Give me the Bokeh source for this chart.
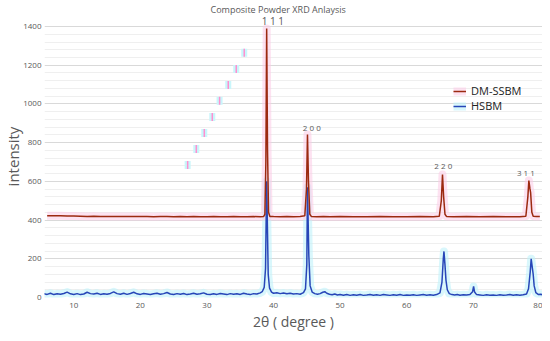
from bokeh.plotting import figure
from bokeh.models import Range1d, FixedTicker, Legend, LegendItem, ColumnDataSource
from bokeh.core.properties import value
from bokeh.embed import file_html
from bokeh.resources import INLINE

# ---------------- data ----------------
dm_2theta = [6.0, 7, 8, 9, 10, 11, 12, 13, 14, 15, 16, 17, 18, 19, 20, 21, 22, 23, 24, 25,
             26, 27, 28, 29, 30, 31, 32, 33, 34, 35, 36, 37, 38, 38.5, 38.7, 38.85, 38.97,
             39.1, 39.25, 39.45, 40, 41, 42, 43, 44, 44.7, 44.95, 45.1, 45.25, 45.45, 45.7,
             46.5, 47.5, 48.5, 50, 52, 54, 56, 58, 60, 62, 64, 64.9, 65.2, 65.38, 65.55,
             65.75, 66, 67, 69, 71, 73, 75, 77, 77.9, 78.2, 78.35, 78.5, 78.62, 78.8, 79.0,
             79.5, 80.0]
dm_intensity = [423, 422, 422, 421, 421, 420, 419, 420, 419, 418, 419, 418, 418, 419, 418,
                418, 417, 418, 418, 417, 418, 417, 418, 417, 417, 418, 417, 417, 418, 417,
                417, 418, 417, 418, 430, 700, 1390, 760, 440, 419, 418, 417, 418, 417, 418,
                422, 560, 842, 600, 430, 418, 417, 418, 417, 418, 417, 417, 418, 417, 417,
                418, 417, 420, 500, 635, 520, 430, 418, 417, 418, 417, 418, 417, 417, 420,
                520, 604, 565, 540, 440, 420, 418, 418]

hs_2theta = [5.5, 6.0, 6.5, 7.0, 7.5, 8.0, 8.5, 9.0, 9.5, 10.0, 10.5, 11.0, 11.5, 12.0, 12.5,
             13.0, 13.5, 14.0, 14.5, 15.0, 15.5, 16.0, 16.5, 17.0, 17.5, 18.0, 18.5, 19.0,
             19.5, 20.0, 20.5, 21.0, 21.5, 22.0, 22.5, 23.0, 23.5, 24.0, 24.5, 25.0, 25.5,
             26.0, 26.5, 27.0, 27.5, 28.0, 28.5, 29.0, 29.5, 30.0, 30.5, 31.0, 31.5, 32.0,
             32.5, 33.0, 33.5, 34.0, 34.5, 35.0, 35.5, 36.0, 36.5, 37.0, 37.5, 38.0, 38.3,
             38.6, 38.8, 38.9, 38.97, 39.1, 39.2, 39.4, 39.7, 40.0, 40.5, 41.0, 41.5, 42.0,
             42.5, 43.0, 43.5, 44.0, 44.5, 44.8, 45.0, 45.1, 45.3, 45.5, 45.8, 46.2, 46.6,
             47.0, 47.4, 47.7, 48.0, 48.4, 48.8, 49.2, 49.6, 50.0, 50.5, 51.0, 51.5, 52.0,
             52.5, 53.0, 53.5, 54.0, 54.5, 55.0, 55.5, 56.0, 56.5, 57.0, 57.5, 58.0, 58.5,
             59.0, 59.5, 60.0, 60.5, 61.0, 61.5, 62.0, 62.5, 63.0, 63.5, 64.0, 64.5, 65.0,
             65.3, 65.5, 65.6, 65.75, 65.9, 66.1, 66.4, 66.8, 67.2, 67.6, 68.0, 68.5, 69.0,
             69.5, 69.9, 70.05, 70.2, 70.5, 71.0, 71.5, 72.0, 72.5, 73.0, 73.5, 74.0, 74.5,
             75.0, 75.5, 76.0, 76.5, 77.0, 77.5, 78.0, 78.3, 78.55, 78.7, 78.85, 79.0, 79.15,
             79.4, 79.8, 80.1, 80.4]
hs_intensity = [20, 16, 22, 15, 19, 17, 21, 28, 19, 16, 20, 15, 18, 27, 20,
                18, 22, 16, 19, 17, 21, 29, 20, 17, 22, 16, 21, 27,
                19, 16, 21, 18, 15, 19, 22, 17, 20, 26, 18, 16, 20,
                17, 21, 15, 18, 22, 17, 19, 24, 17, 15, 19, 16, 21,
                18, 15, 20, 17, 19, 16, 22, 18, 15, 20, 18, 24, 30,
                52, 150, 420, 600, 330, 120, 48, 28, 22, 24, 20, 23, 19,
                22, 18, 20, 17, 25, 45, 170, 570, 220, 60, 28, 20, 17,
                20, 27, 30, 22, 17, 14, 18, 13, 16, 12, 15, 11, 14,
                12, 15, 11, 13, 16, 12, 14, 11, 15, 13, 11, 14, 12,
                15, 11, 13, 12, 14, 11, 13, 15, 12, 14, 12, 15, 24,
                80, 200, 238, 170, 90, 40, 20, 15, 13, 15, 12, 14, 13,
                15, 30, 57, 28, 15, 13, 11, 14, 12, 13, 11, 14, 12,
                13, 15, 12, 14, 12, 14, 18, 45, 130, 200, 160, 120, 60,
                25, 15, 17, 14]

peak_labels = ["1 1 1", "2 0 0", "2 2 0", "3 1 1"]
peak_label_x = [39.9, 45.75, 65.5, 77.9]
peak_label_y = [1392, 852, 656, 620]
peak_label_size = ["10px", "8px", "8px", "8px"]

marker_x = [27.1, 28.4, 29.6, 30.8, 31.9, 33.2, 34.4, 35.6]
marker_y = [684, 767, 850, 933, 1016, 1098, 1181, 1264]

x_ticks = [10, 20, 30, 40, 50, 60, 70, 80]
y_ticks = [0, 200, 400, 600, 800, 1000, 1200, 1400]
y_minor = [v for v in range(40, 1400, 40) if v % 200 != 0]

FONT = "Open Sans"
GRAY = "#595959"
RED = "#9c2a10"
BLUE = "#2746b8"

p = figure(width=542, height=333, output_backend="svg", toolbar_location=None,
           x_range=Range1d(5.6, 80.4), y_range=Range1d(0, 1457),
           min_border_left=0, min_border_right=0, min_border_top=0, min_border_bottom=0)

p.title.text = "Composite Powder XRD Anlaysis"
p.title.align = "left"
p.title.offset = 166
p.title.standoff = 0
p.title.text_font = FONT
p.title.text_font_size = "9px"
p.title.text_font_style = "normal"
p.title.text_color = GRAY

p.outline_line_color = None
p.background_fill_color = "white"

p.xgrid.grid_line_color = None
p.ygrid.ticker = FixedTicker(ticks=y_ticks, minor_ticks=y_minor)
p.ygrid.grid_line_color = "#d9d9d9"
p.ygrid.minor_grid_line_color = "#efefef"

p.xaxis.ticker = FixedTicker(ticks=x_ticks)
p.yaxis.ticker = FixedTicker(ticks=y_ticks)
for ax in (p.xaxis, p.yaxis):
    ax.axis_line_color = None
    ax.major_tick_line_color = None
    ax.minor_tick_line_color = None
    ax.major_tick_out = 0
    ax.minor_tick_out = 0
    ax.major_label_text_font = FONT
    ax.major_label_text_font_size = "8px"
    ax.major_label_text_color = GRAY
    ax.axis_label_text_font = FONT
    ax.axis_label_text_font_style = "normal"
    ax.axis_label_text_color = GRAY

p.xaxis.axis_label = "2θ ( degree )"
p.xaxis.axis_label_text_font_size = "14px"
p.xaxis.major_label_standoff = 5
p.xaxis.axis_label_standoff = 1
p.yaxis.axis_label = "intensity"
p.yaxis.axis_label_text_font_size = "15px"
p.yaxis.major_label_standoff = 3
p.yaxis.axis_label_standoff = -3

# decorative marks
p.rect(marker_x, marker_y, width=6, height=8, width_units="screen", height_units="screen",
       fill_color="#c9f6fb", line_color=None)
p.rect(marker_x, marker_y, width=1.5, height=8, width_units="screen", height_units="screen",
       fill_color="#ff8fcf", line_color=None)

# glows
hs_src = ColumnDataSource(dict(x=hs_2theta, y=hs_intensity))
dm_src = ColumnDataSource(dict(x=dm_2theta, y=dm_intensity))
hs_glow = p.line("x", "y", source=hs_src, line_width=8, line_color="#bff2fa", line_alpha=0.6,
                 line_join="round")
dm_glow = p.line("x", "y", source=dm_src, line_width=8, line_color="#fccbe6", line_alpha=0.55,
                 line_join="round")
hs_line = p.line("x", "y", source=hs_src, line_width=1.5, line_color=BLUE)
dm_line = p.line("x", "y", source=dm_src, line_width=1.5, line_color=RED)

lab_src = ColumnDataSource(dict(x=peak_label_x, y=peak_label_y, t=peak_labels,
                                s=peak_label_size))
p.text("x", "y", text="t", source=lab_src, text_font=value(FONT), text_font_size="s",
       text_color=GRAY, text_align="center", text_baseline="bottom")

legend = Legend(items=[LegendItem(label="DM-SSBM", renderers=[dm_glow, dm_line]),
                       LegendItem(label="HSBM", renderers=[hs_glow, hs_line])],
                location=(409, 184), orientation="vertical")
legend.background_fill_alpha = 0
legend.border_line_color = None
legend.padding = 0
legend.margin = 0
legend.spacing = -6
legend.glyph_width = 13
legend.glyph_height = 10
legend.label_height = 10
legend.label_standoff = 5
legend.label_text_font = FONT
legend.label_text_font_size = "11px"
legend.label_text_line_height = 0.9
legend.label_text_color = "#222222"
legend.label_text_baseline = "middle"
p.add_layout(legend)

open("out.html", "w").write(file_html(p, INLINE))
